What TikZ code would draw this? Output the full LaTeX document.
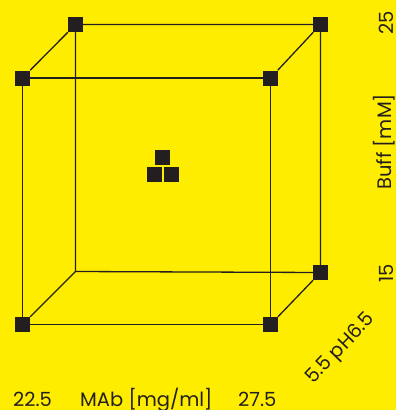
\documentclass[tikz,border=0pt]{standalone}
\usepackage{fontspec}
\setmainfont{Poppins}
\definecolor{cubeyellow}{HTML}{FFED00}
\definecolor{cubeink}{HTML}{231F20}

\begin{document}
\begin{tikzpicture}[x=1pt,y=-1pt,
  corner/.style={rectangle,fill=cubeink,minimum size=15pt,inner sep=0pt},
  edge/.style={draw=cubeink,line width=1.3pt},
  lab/.style={text=cubeink,inner sep=0pt,font=\fontsize{19.5}{19.5}\selectfont}]
  \fill[cubeyellow] (0,0) rectangle (396,410);
  \useasboundingbox (0,0) rectangle (396,410);
  % corners of the design space
  \node[corner] (ftl) at (22.5,78) {};
  \node[corner] (ftr) at (270.5,78) {};
  \node[corner] (fbl) at (22.5,324.5) {};
  \node[corner] (fbr) at (270.5,324.5) {};
  \node[corner] (btl) at (75.5,24.5) {};
  \node[corner] (btr) at (320.5,24.5) {};
  \node[corner] (bbr) at (320.5,272.5) {};
  \coordinate (bbl) at (75.5,271.5);
  % edges
  \draw[edge] (ftl) -- (ftr) -- (fbr) -- (fbl) -- (ftl);
  \draw[edge] (btl) -- (btr) -- (bbr) -- (bbl) -- (btl);
  \draw[edge] (ftl) -- (btl);
  \draw[edge] (ftr) -- (btr);
  \draw[edge] (fbr) -- (bbr);
  \draw[edge] (fbl) -- (bbl);
  % center points
  \node[corner] (ctop) at (162.5,157.5) {};
  \node[corner] (cleft) at (154.5,174.5) {};
  \node[corner] (cright) at (171.5,174.5) {};
  % axis labels
  \node[lab,anchor=base west] (xlo) at (13,406) {22.5};
  \node[lab,anchor=base west] (xname) at (80,406) {MAb [mg/ml]};
  \node[lab,anchor=base west] (xhi) at (238,406) {27.5};
  \node[lab,anchor=base west,rotate=90] (yhi) at (393,35) {25};
  \node[lab,anchor=base west,rotate=90] (yname) at (391,190) {Buff [mM]};
  \node[lab,anchor=base west,rotate=90] (ylo) at (393,283) {15};
  \node[lab,anchor=center,rotate=46] (zname) at (341,349) {5.5 pH6.5};
\end{tikzpicture}
\end{document}
